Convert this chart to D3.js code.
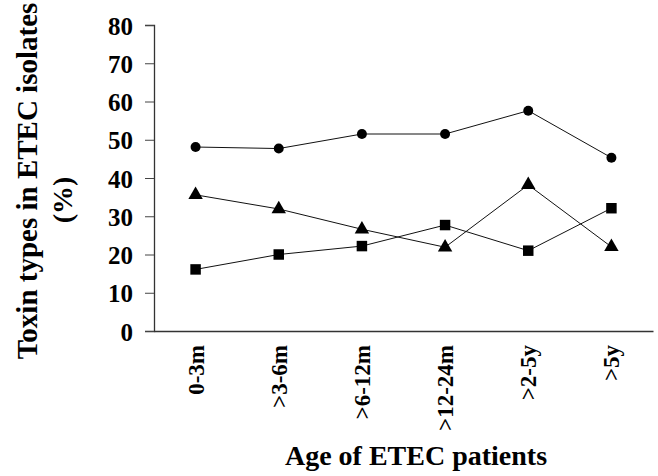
<!DOCTYPE html>
<html>
<head>
<meta charset="utf-8">
<script src="https://cdn.jsdelivr.net/npm/d3@7"></script>
<style>
    body { margin: 0; background: #fff; }
    text { font-family: "Liberation Serif", "Times New Roman", serif; font-weight: bold; fill: #000; }
</style>
</head>
<body>
<div id="chart"></div>
<script>
let ages = ["0-3m", ">3-6m", ">6-12m", ">12-24m", ">2-5y", ">5y"];
let circleValues = [48.1, 47.7, 51.5, 51.5, 57.6, 45.3];
let triangleValues = [35.6, 31.9, 26.6, 21.9, 38.2, 22.0];
let squareValues = [16.1, 20.0, 22.2, 27.7, 21.0, 32.1];
let yTicks = [0, 10, 20, 30, 40, 50, 60, 70, 80];

let width = 658;
let height = 476;

let svg = d3.select("#chart")
    .append("svg")
    .attr("width", width)
    .attr("height", height);

let x = d3.scaleBand()
    .domain(ages)
    .range([154, 653]);

let y = d3.scaleLinear()
    .domain([0, 80])
    .range([331, 25]);

// y axis, ticks outside
let yAxis = svg.append("g")
    .attr("transform", "translate(154,0)")
    .call(d3.axisLeft(y).tickValues(yTicks).tickSize(9).tickSizeOuter(9).tickPadding(12));
yAxis.select(".domain").attr("stroke", "#333").attr("stroke-width", 1.3);
yAxis.selectAll(".tick line").attr("stroke", "#444");
yAxis.selectAll(".tick text")
    .style("font-size", "25px")
    .attr("dy", "0.36em");

// x axis: plain line, rotated labels
let xAxis = svg.append("g")
    .attr("transform", "translate(0,331)")
    .call(d3.axisBottom(x).tickSize(0).tickSizeOuter(0));
xAxis.select(".domain").attr("stroke", "#333").attr("stroke-width", 1.3);
xAxis.selectAll(".tick text")
    .style("font-size", "23px")
    .attr("text-anchor", "end")
    .attr("transform", "translate(8,14) rotate(-90)")
    .attr("x", 0)
    .attr("y", 0)
    .attr("dy", 0);

function drawSeries(values, shape, size)
{
    let line = d3.line()
        .x(function(d, i) { return x(ages[i]) + x.bandwidth() / 2; })
        .y(function(d) { return y(d); });

    svg.append("path")
        .datum(values)
        .attr("fill", "none")
        .attr("stroke", "#111")
        .attr("stroke-width", 1)
        .attr("d", line);

    svg.append("g")
        .selectAll("path")
        .data(values)
        .enter().append("path")
        .attr("d", d3.symbol().type(shape).size(size))
        .attr("transform", function(d, i) {
            return "translate(" + (x(ages[i]) + x.bandwidth() / 2) + "," + y(d) + ")";
        })
        .attr("fill", "#000");
}

drawSeries(circleValues, d3.symbolCircle, 78);
drawSeries(triangleValues, d3.symbolTriangle, 90);
drawSeries(squareValues, d3.symbolSquare, 110);

// axis titles
svg.append("text")
    .attr("x", 416)
    .attr("y", 465)
    .attr("text-anchor", "middle")
    .style("font-size", "28px")
    .text("Age of ETEC patients");

svg.append("text")
    .attr("transform", "translate(37,181) rotate(-90)")
    .attr("text-anchor", "middle")
    .style("font-size", "29px")
    .text("Toxin types in ETEC isolates");

svg.append("text")
    .attr("transform", "translate(72,200) rotate(-90)")
    .attr("text-anchor", "middle")
    .style("font-size", "28px")
    .text("(%)");
</script>
</body>
</html>
